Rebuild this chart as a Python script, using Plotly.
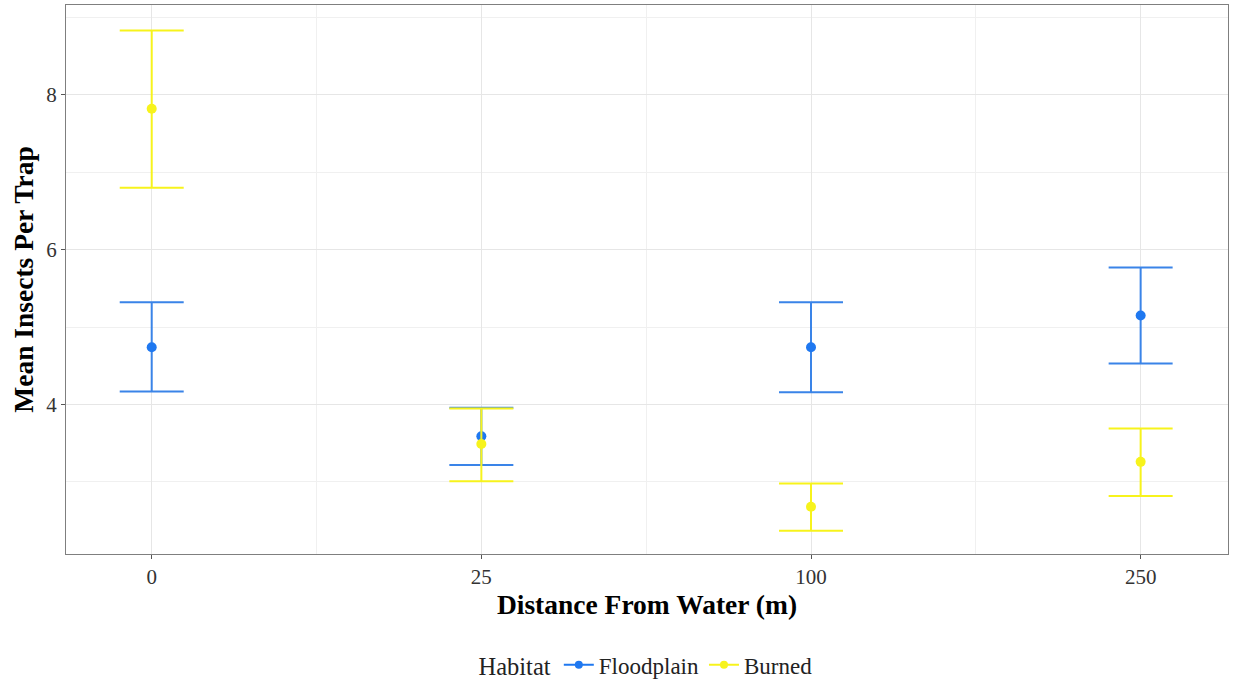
import plotly.graph_objects as go

categories = ["0", "25", "100", "250"]
flood_mean = [4.74, 3.59, 4.74, 5.15]
flood_low = [4.17, 3.22, 4.16, 4.53]
flood_high = [5.32, 3.96, 5.32, 5.77]
burn_mean = [7.82, 3.49, 2.68, 3.26]
burn_low = [6.80, 3.01, 2.37, 2.82]
burn_high = [8.83, 3.95, 2.98, 3.69]

BLUE = "#1f78f0"
YELLOW = "#f7f31c"
FONT = "Liberation Serif"

xpos = list(range(len(categories)))

fig = go.Figure()

def add_series(name, mean, low, high, color, err_color):
    plus = [h - m for h, m in zip(high, mean)]
    minus = [m - l for m, l in zip(mean, low)]
    fig.add_trace(go.Scatter(
        x=xpos, y=mean, mode="markers", name=name, showlegend=False,
        marker=dict(color=color, size=10),
        error_y=dict(type="data", array=plus, arrayminus=minus, symmetric=False,
                     color=err_color, thickness=2, width=32),
    ))
    fig.add_trace(go.Scatter(
        x=[None], y=[None], mode="lines+markers", name=name,
        marker=dict(color=color, size=8), line=dict(color=color, width=2),
    ))

add_series("Floodplain", flood_mean, flood_low, flood_high, BLUE, "#3a84e8")
add_series("Burned", burn_mean, burn_low, burn_high, YELLOW, YELLOW)

fig.update_layout(
    width=1236, height=682,
    margin=dict(l=66, r=8, t=5, b=128, autoexpand=False),
    paper_bgcolor="white", plot_bgcolor="white",
    font=dict(family=FONT, color="#222222"),
    showlegend=True,
    legend=dict(
        orientation="h", x=0.5, xanchor="center", y=-0.202, yanchor="middle",
        title=dict(text="Habitat", side="left", font=dict(size=24.5, family=FONT, color="#222222")),
        font=dict(size=23, family=FONT, color="#222222"),
        itemwidth=30,
    ),
)

fig.update_xaxes(
    range=[-0.26, 3.265], automargin=False,
    tickmode="array", tickvals=xpos, ticktext=categories,
    tickfont=dict(size=21, family=FONT, color="#333333"),
    ticks="outside", ticklen=4, tickcolor="#555555",
    showgrid=True, gridcolor="#e6e6e6", gridwidth=1.2,
    minor=dict(showgrid=True, gridcolor="#f0f0f0", gridwidth=1, tick0=0.5, dtick=1),
    zeroline=False,
    showline=True, linecolor="#7f7f7f", linewidth=1.2, mirror=True,
    title=dict(text="<b>Distance From Water (m)</b>", font=dict(size=27.5, family=FONT, color="#000000"), standoff=6),
)

fig.update_yaxes(
    range=[2.07, 9.16], automargin=False,
    tickmode="array", tickvals=[4, 6, 8], ticktext=["4", "6", "8"],
    tickfont=dict(size=21, family=FONT, color="#333333"),
    ticks="outside", ticklen=4, tickcolor="#555555",
    showgrid=True, gridcolor="#e6e6e6", gridwidth=1.2,
    minor=dict(showgrid=True, gridcolor="#f0f0f0", gridwidth=1, tickmode="array", tickvals=[3, 5, 7, 9]),
    zeroline=False,
    showline=True, linecolor="#7f7f7f", linewidth=1.2, mirror=True,
    title=dict(text="<b>Mean Insects Per Trap</b>", font=dict(size=27.5, family=FONT, color="#000000"), standoff=4),
)

fig.write_html("out.html", config={"displayModeBar": False},
               post_script="document.body.style.margin='0';")
